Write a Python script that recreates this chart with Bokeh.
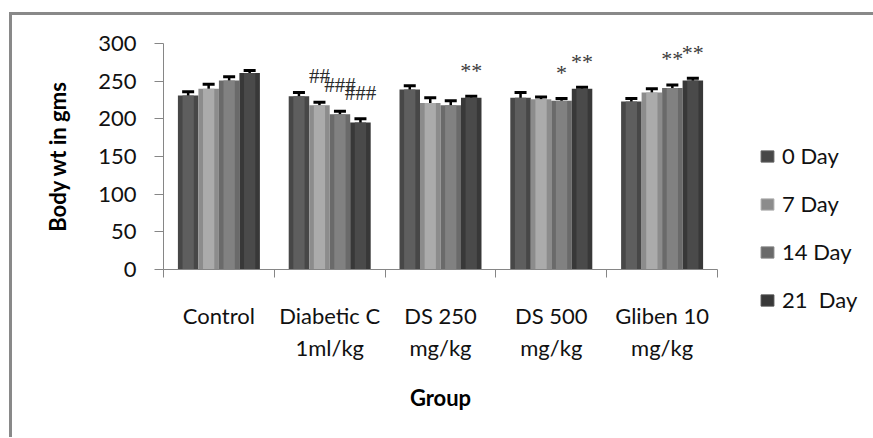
from bokeh.plotting import figure
from bokeh.layouts import row
from bokeh.models import (ColumnDataSource, FixedTicker, Whisker, TeeHead, Legend,
                          LegendItem, Range1d)
from bokeh.transform import dodge
from bokeh.core.properties import value
from bokeh.embed import file_html
from bokeh.resources import INLINE

# ---------------- data ----------------
groups = ["Control", "Diabetic C\n1ml/kg", "DS 250\nmg/kg", "DS 500\nmg/kg", "Gliben 10\nmg/kg"]
days = ["0 Day", "7 Day", "14 Day", "21  Day"]

day0 = [231, 230, 239, 228, 223]
day7 = [240, 218, 221, 226, 235]
day14 = [251, 206, 218, 224, 241]
day21 = [261, 195, 228, 240, 251]

err0 = [5, 5, 5, 7, 4]
err7 = [6, 4, 7, 3, 5]
err14 = [5, 4, 6, 3, 4]
err21 = [3, 5, 2, 2, 3]

y_ticks = [0, 50, 100, 150, 200, 250, 300]

# significance marks: text, group index, day index
anno_text = ["##", "###", "###", "**", "*", "**", "**", "**"]
anno_group = [1, 1, 1, 2, 3, 3, 4, 4]
anno_day = [1, 2, 3, 3, 2, 3, 2, 3]

# ---------------- styles ----------------
edge_colors = ["#474747", "#8c8c8c", "#6a6a6a", "#383838"]
face_colors = ["#5e5e5e", "#ababab", "#818181", "#4a4a4a"]
FONT = "Lato"
AXIS_GRAY = "#868686"
H = 422

series = [day0, day7, day14, day21]
errors = [err0, err7, err14, err21]

centers = [i + 0.5 for i in range(len(groups))]
bounds = [float(i) for i in range(len(groups) + 1)]
bar_w = 0.185
offsets = [(k - 1.5) * bar_w for k in range(len(days))]

p = figure(width=747, height=H, output_backend="svg", toolbar_location=None,
           x_range=Range1d(0, len(groups)), y_range=Range1d(0, 300),
           min_border_left=151, min_border_right=42, min_border_top=28,
           min_border_bottom=H - 254)
p.outline_line_color = None
p.xgrid.visible = False
p.ygrid.visible = False
p.background_fill_color = "white"
p.border_fill_color = "white"

legend_renderers = []
for k, day in enumerate(days):
    vals = series[k]
    errs = errors[k]
    src = ColumnDataSource(dict(
        x=centers, top=vals,
        upper=[v + e for v, e in zip(vals, errs)],
        lower=[v - e for v, e in zip(vals, errs)],
    ))
    p.vbar(x=dodge("x", offsets[k], range=p.x_range), top="top", width=bar_w,
           bottom=0, source=src, fill_color=edge_colors[k], line_color=None)
    p.vbar(x=dodge("x", offsets[k], range=p.x_range), top="top", width=bar_w * 0.55,
           bottom=0, source=src, fill_color=face_colors[k], line_color=None)
    w = Whisker(base=dodge("x", offsets[k], range=p.x_range), upper="upper", lower="lower",
                source=src, line_color="black", line_width=2.5,
                upper_head=TeeHead(size=12, line_width=3, line_color="black"),
                lower_head=TeeHead(size=12, line_width=3, line_color="black"))
    p.add_layout(w)

# annotations
ax, ay, at_hash, ax_s, ay_s, at_s = [], [], [], [], [], []
for t, g, d in zip(anno_text, anno_group, anno_day):
    xx = centers[g] + offsets[d]
    yy = series[d][g] + errors[d][g]
    if "#" in t:
        ax.append(xx); ay.append(yy); at_hash.append(t)
    else:
        ax_s.append(xx); ay_s.append(yy); at_s.append(t)

p.text(x=ax, y=ay, text=at_hash, text_font=value("Liberation Serif"),
       text_font_size="21px", text_align="center", text_baseline="middle",
       y_offset=-26, text_color="#2a2a2a")
p.text(x=ax_s, y=ay_s, text=at_s, text_font=value("Liberation Serif"),
       text_font_size="22px", text_align="center", text_baseline="middle",
       y_offset=-26, text_color="#3a3a3a")

# axes
p.yaxis.ticker = FixedTicker(ticks=y_ticks)
p.yaxis.axis_line_color = AXIS_GRAY
p.yaxis.major_tick_line_color = AXIS_GRAY
p.yaxis.major_tick_out = 9
p.yaxis.major_tick_in = 0
p.yaxis.minor_tick_line_color = None
p.yaxis.major_label_text_font = FONT
p.yaxis.major_label_text_font_size = "22px"
p.yaxis.major_label_text_color = "#111111"
p.yaxis.major_label_standoff = 18
p.yaxis.axis_label = "Body wt in gms"
p.yaxis.axis_label_text_font = FONT
p.yaxis.axis_label_text_font_size = "22px"
p.yaxis.axis_label_text_font_style = "bold"
p.yaxis.axis_label_text_color = "black"
p.yaxis.axis_label_standoff = 24

p.xaxis.ticker = FixedTicker(ticks=centers, minor_ticks=bounds)
p.xaxis.major_label_overrides = {c: g for c, g in zip(centers, groups)}
p.xaxis.axis_line_color = AXIS_GRAY
p.xaxis.major_tick_line_color = None
p.xaxis.major_tick_out = 0
p.xaxis.major_tick_in = 0
p.xaxis.minor_tick_line_color = AXIS_GRAY
p.xaxis.minor_tick_out = 8
p.xaxis.minor_tick_in = 0
p.xaxis.major_label_text_font = FONT
p.xaxis.major_label_text_font_size = "22px"
p.xaxis.major_label_text_color = "#111111"
p.xaxis.major_label_text_line_height = 1.2
p.xaxis.major_label_standoff = 24
p.xaxis.axis_label = "Group"
p.xaxis.axis_label_text_font = FONT
p.xaxis.axis_label_text_font_size = "22px"
p.xaxis.axis_label_text_font_style = "bold"
p.xaxis.axis_label_text_color = "black"
p.xaxis.axis_label_standoff = 20

# legend on its own canvas (side panel, so it is not clipped by a plot frame)
leg = figure(width=114, height=H, output_backend="svg", toolbar_location=None,
             x_axis_type=None, y_axis_type=None, min_border=0,
             x_range=Range1d(0, 1), y_range=Range1d(0, 1))
leg.outline_line_color = None
leg.xgrid.visible = False
leg.ygrid.visible = False
leg.border_fill_color = "white"
leg.background_fill_color = "white"

legend_items = []
for k, day in enumerate(days):
    r = leg.vbar(x=[0.5], top=[0.0], width=0.0, fill_color=edge_colors[k],
                 line_color=face_colors[k], line_width=1)
    legend_items.append(LegendItem(label=day, renderers=[r]))

legend = Legend(items=legend_items, location="top_left", orientation="vertical",
                title=" ", title_text_font_size="10px", title_standoff=88,
                label_text_font=FONT, label_text_font_size="22px",
                label_text_color="#111111", glyph_width=16, glyph_height=14,
                label_standoff=7, spacing=21, padding=0, margin=0,
                border_line_color=None, background_fill_alpha=0)
leg.add_layout(legend, "left")

layout = row(p, leg, styles={"border-top": "3px solid #898989",
                             "border-left": "3px solid #898989",
                             "margin-top": "12px", "margin-left": "9px"})

open("out.html", "w").write(file_html(layout, INLINE))
